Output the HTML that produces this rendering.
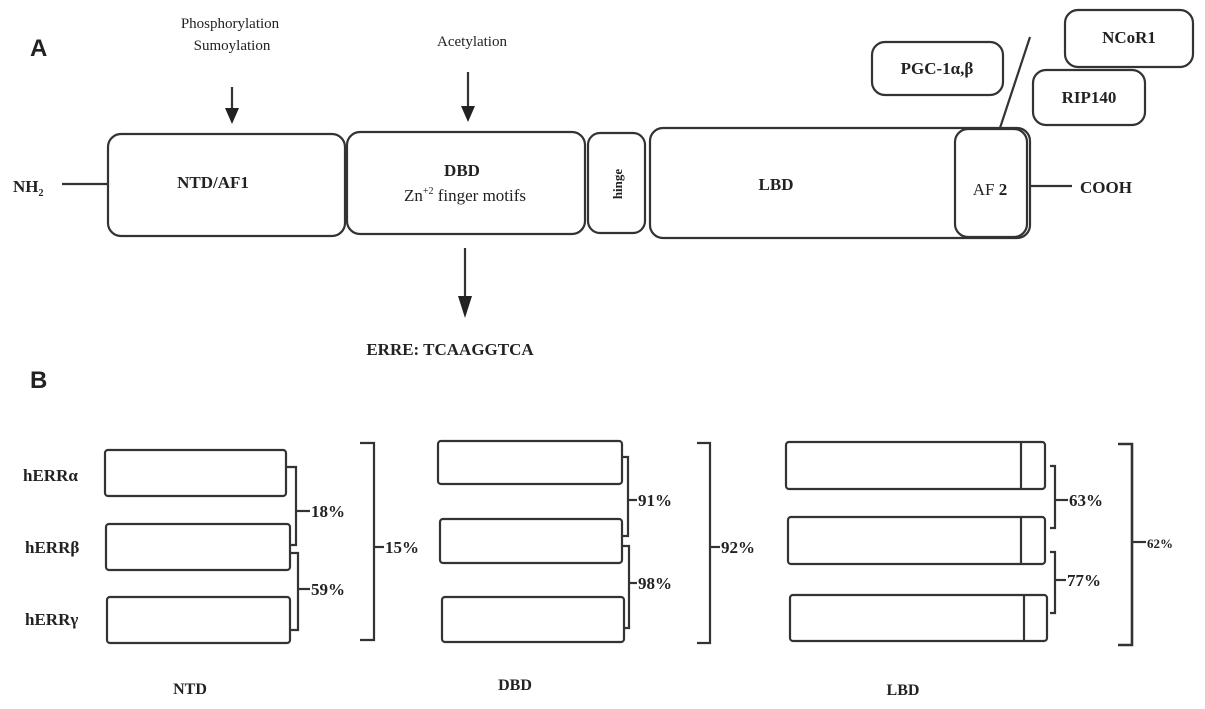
<!DOCTYPE html>
<html><head><meta charset="utf-8"><style>
html,body{margin:0;padding:0;background:#fff;}
svg{display:block}
text{font-family:"Liberation Serif",serif;fill:#222;}
.b{font-weight:bold}
.s{font-family:"Liberation Sans",sans-serif;font-weight:bold;}
</style></head><body>
<svg width="1205" height="709" viewBox="0 0 1205 709" xmlns="http://www.w3.org/2000/svg">
<g fill="none" stroke="#333" stroke-width="2.2">
<line x1="62" y1="184" x2="108" y2="184"/>
<rect x="108" y="134" width="237" height="102" rx="13"/>
<rect x="347" y="132" width="238" height="102" rx="13"/>
<rect x="588" y="133" width="57" height="100" rx="12"/>
<rect x="650" y="128" width="380" height="110" rx="13"/>
<rect x="955" y="129" width="72" height="108" rx="13"/>
<line x1="1030" y1="186" x2="1072" y2="186"/>
<rect x="872" y="42" width="131" height="53" rx="13"/>
<rect x="1065" y="10" width="128" height="57" rx="13"/>
<rect x="1033" y="70" width="112" height="55" rx="13"/>
<line x1="1030" y1="37" x2="1000" y2="128"/>
<line x1="232" y1="87" x2="232" y2="112"/>
<line x1="468" y1="72" x2="468" y2="110"/>
<line x1="465" y1="248" x2="465" y2="300"/>
<rect x="105" y="450" width="181" height="46" rx="3"/>
<rect x="106" y="524" width="184" height="46" rx="3"/>
<rect x="107" y="597" width="183" height="46" rx="3"/>
<path d="M287 467 H296 V545 H290"/><line x1="296" y1="511" x2="310" y2="511"/>
<path d="M290 553 H298 V630 H290"/><line x1="298" y1="589" x2="310" y2="589"/>
<path d="M360 443 H374 V640 H360"/><line x1="374" y1="547" x2="384" y2="547"/>
<rect x="438" y="441" width="184" height="43" rx="3"/>
<rect x="440" y="519" width="182" height="44" rx="3"/>
<rect x="442" y="597" width="182" height="45" rx="3"/>
<path d="M622 457 H628 V536 H622"/><line x1="628" y1="500" x2="637" y2="500"/>
<path d="M622 546 H629 V628 H624"/><line x1="629" y1="583" x2="637" y2="583"/>
<path d="M697 443 H710 V643 H697"/><line x1="710" y1="547" x2="720" y2="547"/>
<rect x="786" y="442" width="259" height="47" rx="3"/>
<rect x="788" y="517" width="257" height="47" rx="3"/>
<rect x="790" y="595" width="257" height="46" rx="3"/>
<line x1="1021" y1="442" x2="1021" y2="489"/>
<line x1="1021" y1="517" x2="1021" y2="564"/>
<line x1="1024" y1="595" x2="1024" y2="641"/>
<path d="M1050 466 H1055 V528 H1050"/><line x1="1055" y1="500" x2="1068" y2="500"/>
<path d="M1050 552 H1055 V613 H1050"/><line x1="1055" y1="580" x2="1066" y2="580"/>
<path d="M1118 444 H1132 V645 H1118" stroke-width="2.6"/><line x1="1132" y1="542" x2="1146" y2="542"/>
</g>
<g fill="#222">
<polygon points="225,108 239,108 232,124"/>
<polygon points="461,106 475,106 468,122"/>
<polygon points="458,296 472,296 465,318"/>
</g>
<text class="s" x="30" y="56" font-size="24">A</text>
<text class="s" x="30" y="388" font-size="24">B</text>
<text x="230" y="28" font-size="15" text-anchor="middle">Phosphorylation</text>
<text x="232" y="50" font-size="15" text-anchor="middle">Sumoylation</text>
<text x="472" y="46" font-size="15" text-anchor="middle">Acetylation</text>
<text class="b" x="13" y="192" font-size="17">NH<tspan font-size="10" dy="4">2</tspan></text>
<text class="b" x="213" y="188" font-size="17" text-anchor="middle">NTD/AF1</text>
<text class="b" x="462" y="176" font-size="17" text-anchor="middle">DBD</text>
<text x="465" y="201" font-size="17" text-anchor="middle">Zn<tspan font-size="10" dy="-7">+2</tspan><tspan dy="7"> finger motifs</tspan></text>
<text class="b" x="622" y="184" font-size="13" text-anchor="middle" transform="rotate(-90 622 184)">hinge</text>
<text class="b" x="776" y="190" font-size="17" text-anchor="middle">LBD</text>
<text x="990" y="195" font-size="17" text-anchor="middle">AF <tspan font-weight="bold">2</tspan></text>
<text class="b" x="1080" y="193" font-size="17">COOH</text>
<text class="b" x="937" y="74" font-size="17" text-anchor="middle">PGC-1α,β</text>
<text class="b" x="1129" y="43" font-size="17" text-anchor="middle">NCoR1</text>
<text class="b" x="1089" y="103" font-size="17" text-anchor="middle">RIP140</text>
<text class="b" x="450" y="355" font-size="17" text-anchor="middle">ERRE:  TCAAGGTCA</text>
<text class="b" x="23" y="481" font-size="17">hERRα</text>
<text class="b" x="25" y="553" font-size="17">hERRβ</text>
<text class="b" x="25" y="625" font-size="17">hERRγ</text>
<text class="b" x="311" y="517" font-size="17">18%</text>
<text class="b" x="311" y="595" font-size="17">59%</text>
<text class="b" x="385" y="553" font-size="17">15%</text>
<text class="b" x="638" y="506" font-size="17">91%</text>
<text class="b" x="638" y="589" font-size="17">98%</text>
<text class="b" x="721" y="553" font-size="17">92%</text>
<text class="b" x="1069" y="506" font-size="17">63%</text>
<text class="b" x="1067" y="586" font-size="17">77%</text>
<text class="b" x="1147" y="548" font-size="13">62%</text>
<text class="b" x="190" y="694" font-size="16" text-anchor="middle">NTD</text>
<text class="b" x="515" y="690" font-size="16" text-anchor="middle">DBD</text>
<text class="b" x="903" y="695" font-size="16" text-anchor="middle">LBD</text>
</svg>
</body></html>
